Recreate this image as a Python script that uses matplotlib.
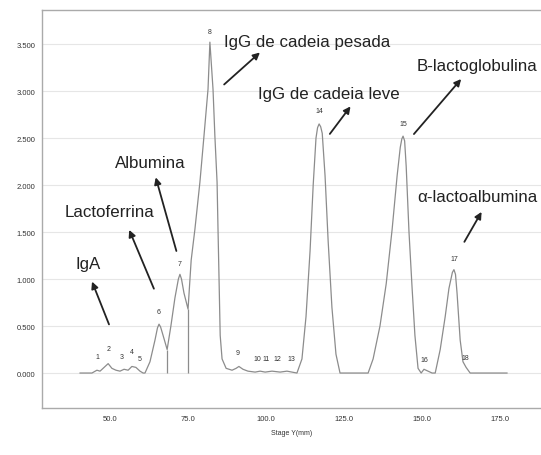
import matplotlib
matplotlib.use("Agg")
import matplotlib.pyplot as plt

plt.rcParams['font.family'] = ['Liberation Sans', 'DejaVu Sans']

# chromatogram trace (stage position, signal)
trace_x = [40.4, 44.2, 45.8, 46.8, 48.1, 49.4, 50.6, 51.9, 53.2, 54.5, 55.8, 57.0, 58.3, 59.6, 60.6,
           61.2, 62.8, 64.4, 65.2, 65.7, 66.2, 67.0, 68.3,
           68.3, 69.5, 70.8, 71.9, 72.4, 72.9, 73.7, 75.0,
           75.0, 76.0, 77.2, 78.8, 80.1, 81.4, 82.0, 83.0, 83.6, 84.3, 84.6, 84.9, 85.3, 85.9, 87.2,
           89.1, 90.4, 91.3, 92.6, 94.2, 96.5, 98.1, 99.7, 101.9, 104.5, 106.7, 108.3,
           109.9, 111.5, 112.8, 114.1, 115.1, 116.0, 116.5, 117.0, 117.5, 118.0, 118.9, 119.9, 121.1,
           122.4, 123.7,
           132.7, 134.3, 136.5, 138.5, 140.4, 142.0, 143.0, 143.5, 143.9, 144.4, 144.9, 145.8, 146.8,
           147.7, 148.7, 149.7,
           150.6, 151.9, 153.2,
           154.2, 155.8, 157.4, 158.6, 159.7, 160.2, 160.7, 161.2, 162.2, 163.1, 164.1, 165.4, 177.2]
trace_y = [0.0, 0.0, 0.03, 0.02, 0.06, 0.10, 0.05, 0.03, 0.02, 0.04, 0.03, 0.07, 0.06, 0.02, 0.0,
           0.0, 0.12, 0.35, 0.48, 0.52, 0.49, 0.40, 0.25,
           0.25, 0.50, 0.80, 1.00, 1.05, 1.00, 0.85, 0.68,
           0.68, 1.20, 1.53, 2.03, 2.52, 3.02, 3.52, 3.02, 2.52, 2.03, 1.53, 1.05, 0.40, 0.15, 0.05,
           0.03, 0.05, 0.07, 0.04, 0.02, 0.01, 0.02, 0.01, 0.02, 0.01, 0.02, 0.01,
           0.0, 0.15, 0.60, 1.30, 2.00, 2.50, 2.61, 2.65, 2.62, 2.55, 2.10, 1.40, 0.70,
           0.20, 0.0,
           0.0, 0.15, 0.50, 0.95, 1.53, 2.10, 2.40, 2.49, 2.52, 2.47, 2.20, 1.50, 0.90,
           0.40, 0.05, 0.0,
           0.04, 0.02, 0.0,
           0.0, 0.25, 0.60, 0.90, 1.07, 1.10, 1.05, 0.85, 0.35, 0.12, 0.06, 0.0, 0.0]

# integration drop lines
drop_x = [68.3, 75.0]
drop_y = [0.25, 0.68]

# peak numbers
peak_num = ["1", "2", "3", "4", "5", "6", "7", "8", "9", "10", "11", "12", "13",
            "14", "15", "16", "17", "18"]
peak_x = [46.1, 49.4, 53.8, 57.0, 59.6, 65.7, 72.4, 82.0, 91.0, 97.1, 100.0, 103.5, 108.0,
          117.0, 143.9, 150.6, 160.2, 163.8]
peak_y = [0.18, 0.26, 0.18, 0.23, 0.15, 0.65, 1.17, 3.63, 0.22, 0.15, 0.15, 0.15, 0.15,
          2.79, 2.65, 0.14, 1.22, 0.17]

# protein names: text anchor, arrow tail, arrow head
names = ["IgG de cadeia pesada", "IgG de cadeia leve", "B-lactoglobulina", "α-lactoalbumina",
         "Albumina", "Lactoferrina", "IgA"]
name_x = [86.5, 97.4, 148.4, 148.4, 51.6, 35.3, 38.8]
name_y = [3.53, 2.97, 3.27, 1.88, 2.24, 1.72, 1.16]
tail_x = [85.9, 119.9, 146.8, 163.1, 71.5, 64.4, 50.0]
tail_y = [3.05, 2.52, 2.52, 1.37, 1.27, 0.87, 0.49]
head_x = [98.7, 127.6, 163.1, 169.5, 64.4, 55.8, 43.9]
head_y = [3.43, 2.86, 3.15, 1.74, 2.11, 1.55, 1.00]

yticks = [0.0, 0.5, 1.0, 1.5, 2.0, 2.5, 3.0, 3.5]
xticks = [50, 75, 100, 125, 150, 175]

fig = plt.figure(figsize=(5.41, 4.56), dpi=100)
ax = fig.add_axes([42/541, 1 - 409/456, 1 - 42/541, (409 - 11)/456])

for yt in yticks:
    ax.axhline(yt, color="#e6e6e6", lw=0.8, zorder=0)

ax.plot(trace_x, trace_y, color="#8c8c8c", lw=0.9)
ax.vlines(drop_x, 0, drop_y, color="#8c8c8c", lw=0.9)

for n, x, y in zip(peak_num, peak_x, peak_y):
    ax.text(x, y, n, fontsize=5, ha="center", va="center", color="#333333")

for n, tx, ty, ax0, ay0, hx, hy in zip(names, name_x, name_y, tail_x, tail_y, head_x, head_y):
    ax.text(tx, ty, n, fontsize=12.2, ha="left", va="center", color="#222222")
    ax.annotate("", xy=(hx, hy), xytext=(ax0, ay0),
                arrowprops=dict(arrowstyle="-|>", color="#222222", lw=1.3,
                                mutation_scale=10))

ax.set_xlim(28.2, 188.1)
ax.set_ylim(-0.372, 3.862)
ax.set_yticks(yticks)
ax.set_yticklabels([f"{v:.3f}" for v in yticks], fontsize=5.5, color="#333333")
ax.set_xticks(xticks)
ax.set_xticklabels([f"{v:.1f}" for v in xticks], fontsize=5.5, color="#333333")
ax.tick_params(length=0, pad=5)
ax.set_xlabel("Stage Y(mm)", fontsize=5, color="#333333", labelpad=5)

for s in ["left", "top", "bottom"]:
    ax.spines[s].set_color("#aaaaaa")
    ax.spines[s].set_linewidth(1.0)
ax.spines["right"].set_visible(False)

fig.savefig("out.png", dpi=100)
